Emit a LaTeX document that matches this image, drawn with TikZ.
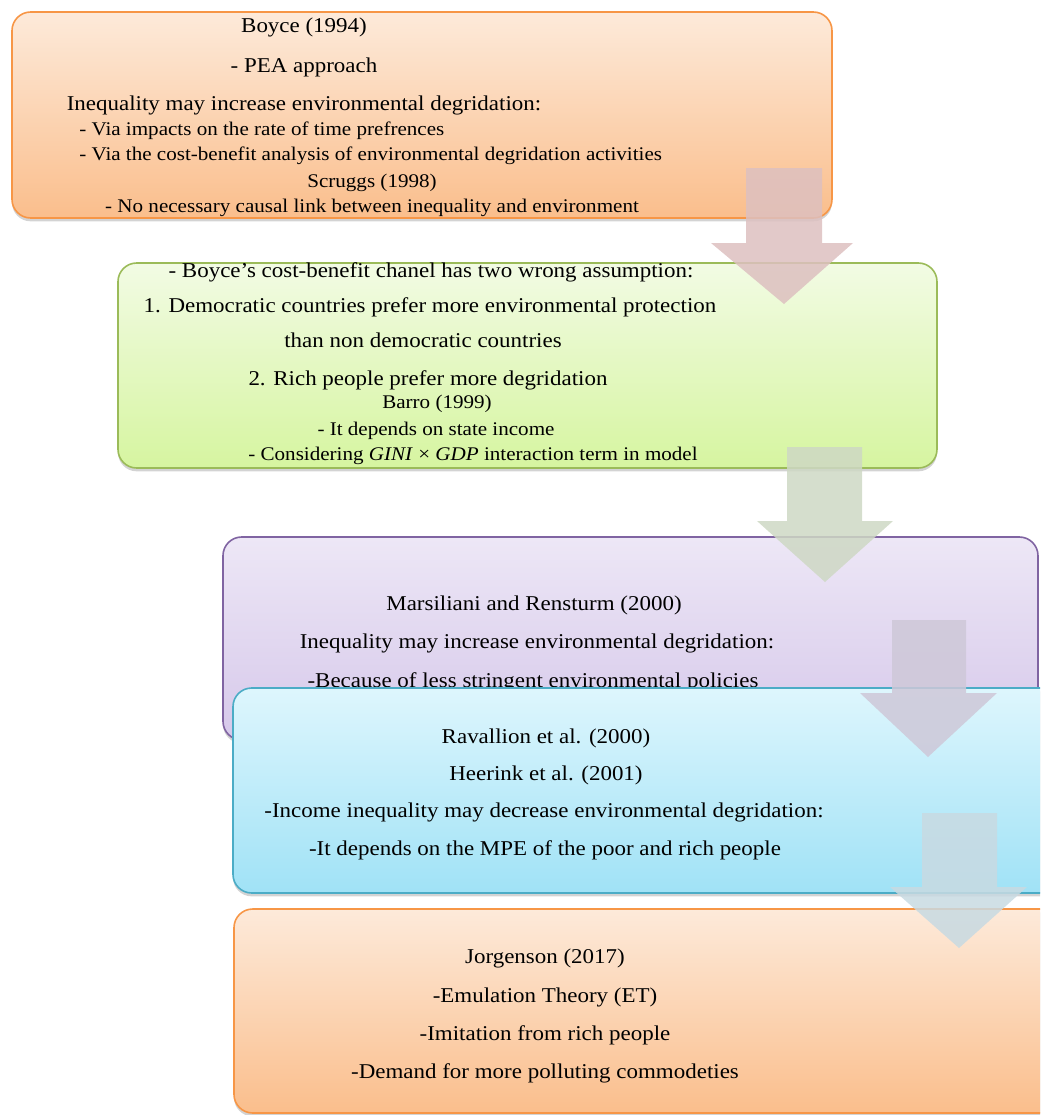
\documentclass[tikz,border=0pt]{standalone}
\usepackage{fontspec}
\setmainfont[FakeStretch=1.09]{Liberation Serif}
\usetikzlibrary{shadows}

\definecolor{orangetop}{RGB}{253,234,218}
\definecolor{orangebot}{RGB}{250,190,140}
\definecolor{orangeline}{RGB}{247,150,70}
\definecolor{greentop}{RGB}{242,251,228}
\definecolor{greenbot}{RGB}{214,245,160}
\definecolor{greenline}{RGB}{155,187,89}
\definecolor{purpletop}{RGB}{237,231,246}
\definecolor{purplebot}{RGB}{214,200,234}
\definecolor{purpleline}{RGB}{128,100,162}
\definecolor{bluetop}{RGB}{222,246,253}
\definecolor{bluebot}{RGB}{160,226,246}
\definecolor{blueline}{RGB}{75,172,198}
\definecolor{arrowA}{RGB}{221,192,192}
\definecolor{arrowB}{RGB}{206,216,196}
\definecolor{arrowC}{RGB}{206,200,216}
\definecolor{arrowD}{RGB}{200,218,226}

\begin{document}
\begin{tikzpicture}[x=0.75pt,y=-0.75pt,
  stage/.style={rounded corners=14pt, line width=1.2pt,
    drop shadow={opacity=0.35, shadow xshift=0pt, shadow yshift=-2.5pt}},
  bigline/.style={anchor=base, inner sep=0pt, font=\fontsize{15.8}{18}\selectfont},
  smallline/.style={bigline, font=\fontsize{14.5}{17}\selectfont},
  flow/.style={opacity=0.85}]
  \useasboundingbox (0,0) rectangle (1040,1115);
  \clip (0,0) rectangle (1040,1115);

  % Boyce / Scruggs
  \draw[stage, draw=orangeline, top color=orangetop, bottom color=orangebot] (12,12) rectangle (832,218);
  \node[bigline] (boyce) at (304,32) {Boyce (1994)};
  \node[bigline] (pea) at (304,72) {- PEA approach};
  \node[bigline] (ineqA) at (304,110) {Inequality may increase environmental degridation:};
  \node[smallline, anchor=base west] (viaA) at (79,135) {- Via impacts on the rate of time prefrences};
  \node[smallline, anchor=base west] (viaB) at (79,160) {- Via the cost-benefit analysis of environmental degridation activities};
  \node[smallline] (scruggs) at (372,187) {Scruggs (1998)};
  \node[smallline] (nolink) at (372,212) {- No necessary causal link between inequality and environment};

  % assumptions / Barro
  \draw[stage, draw=greenline, top color=greentop, bottom color=greenbot] (118,263) rectangle (937,468);
  \node[bigline] (wrong) at (431,277) {- Boyce’s cost-benefit chanel has two wrong assumption:};
  \node[bigline] (democ) at (430,312) {1. Democratic countries prefer more environmental protection};
  \node[bigline] (nondem) at (423,347) {than non democratic countries};
  \node[bigline] (rich) at (428,385) {2. Rich people prefer more degridation};
  \node[smallline] (barro) at (437,408) {Barro (1999)};
  \node[smallline] (state) at (436,435) {- It depends on state income};
  \node[smallline] (gini) at (473,460) {- Considering \textit{GINI} × \textit{GDP} interaction term in model};

  \fill[arrowA, flow] (746,168) -- (822,168) -- (822,243) -- (853,243) -- (784,304) -- (711,243) -- (746,243) -- cycle;

  % Marsiliani and Rensturm
  \draw[stage, draw=purpleline, top color=purpletop, bottom color=purplebot] (223,537) rectangle (1038,740);
  \node[bigline] (marsil) at (534,610) {Marsiliani and Rensturm (2000)};
  \node[bigline] (ineqB) at (537,648) {Inequality may increase environmental degridation:};
  \node[bigline] (policy) at (533,687) {-Because of less stringent environmental policies};

  \fill[arrowB, flow] (787,447) -- (862,447) -- (862,521) -- (893,521) -- (825,582) -- (757,521) -- (787,521) -- cycle;

  % Ravallion / Heerink
  \draw[stage, draw=blueline, top color=bluetop, bottom color=bluebot] (233,688) rectangle (1060,893);
  \node[bigline] (ravallion) at (546,743) {Ravallion et al. (2000)};
  \node[bigline] (heerink) at (546,780) {Heerink et al. (2001)};
  \node[bigline] (ineqC) at (544,817) {-Income inequality may decrease environmental degridation:};
  \node[bigline] (mpe) at (545,855) {-It depends on the MPE of the poor and rich people};

  \fill[arrowC, flow] (892,620) -- (966,620) -- (966,693) -- (997,693) -- (928,757) -- (860,693) -- (892,693) -- cycle;

  % Jorgenson
  \draw[stage, draw=orangeline, top color=orangetop, bottom color=orangebot] (234,909) rectangle (1060,1113);
  \node[bigline] (jorg) at (545,963) {Jorgenson (2017)};
  \node[bigline] (emul) at (545,1002) {-Emulation Theory (ET)};
  \node[bigline] (imit) at (545,1040) {-Imitation from rich people};
  \node[bigline] (demand) at (545,1078) {-Demand for more polluting commodeties};

  \fill[arrowD, flow] (922,813) -- (997,813) -- (997,887) -- (1027,887) -- (959,948) -- (890,887) -- (922,887) -- cycle;
\end{tikzpicture}
\end{document}
